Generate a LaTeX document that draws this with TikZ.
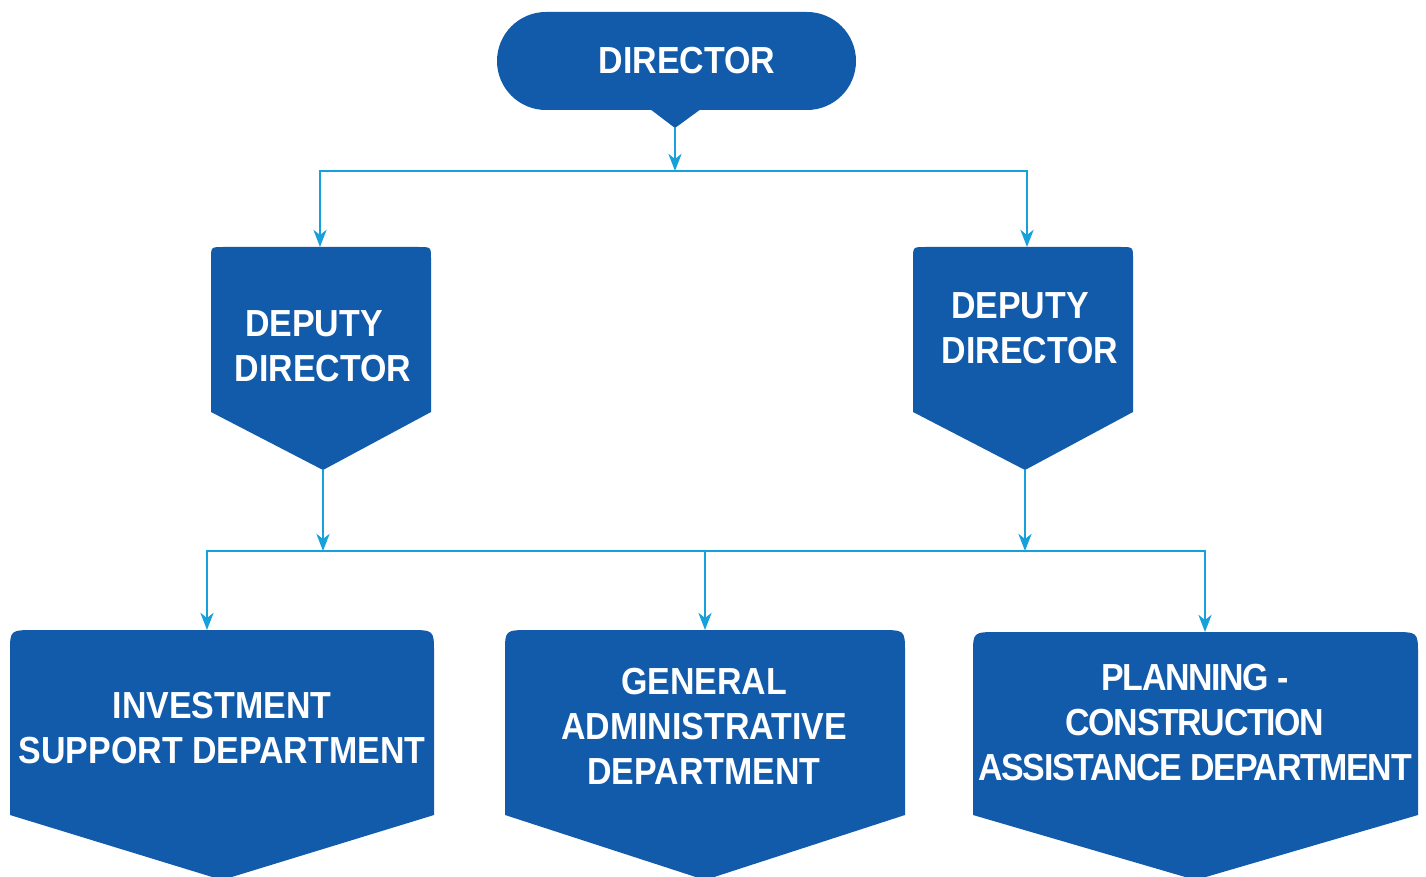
\documentclass[tikz,border=0pt]{standalone}
\usepackage{fontspec}
\setmainfont{Liberation Sans}[FakeStretch=0.9]
\usepackage{tikz}
\usetikzlibrary{arrows.meta}
\definecolor{OrgChartBlue}{RGB}{18,91,171}
\definecolor{OrgChartLine}{RGB}{22,160,220}

\begin{document}
\begin{tikzpicture}[x=1pt,y=-1pt,lbl/.style={text=white,font=\bfseries\fontsize{37.7pt}{45pt}\selectfont,align=center,inner sep=0pt},blk/.style={fill=OrgChartBlue},wire/.style={draw=OrgChartLine,line width=2.8pt},link/.style={wire,-{Stealth[length=17pt,width=13pt,inset=5pt]}}]
\useasboundingbox (0,0) rectangle (1426,877);
\clip (0,0) rectangle (1426,877);
\coordinate (dirtip) at (675,128);
\coordinate (hub) at (675,171);
\coordinate (depLtop) at (320,247);
\coordinate (depRtop) at (1027,247);
\coordinate (depLtip) at (323,470);
\coordinate (depRtip) at (1025,470);
\coordinate (busL) at (323,551);
\coordinate (busM) at (705,551);
\coordinate (busR) at (1025,551);
\coordinate (invtop) at (207,630);
\coordinate (gentop) at (705,630);
\coordinate (plantop) at (1205,632);
% shapes
\fill[blk,rounded corners=49pt] (497,12) rectangle (856,110);
\fill[blk] (650,109) -- (dirtip) -- (701,109) -- cycle;
\foreach \cx in {211,913} {
   \fill[blk] (\cx,412) -- (\cx,259) .. controls (\cx,247) .. (\cx+12,247) -- (\cx+208,247) .. controls (\cx+220,247) .. (\cx+220,259) -- (\cx+220,412) -- (\cx+112,470) -- cycle;
}
\foreach \lx/\rx/\ty in %
{10/434/630,505/905/630,973/1418/632} {
   \fill[blk] (\lx,815) -- (\lx,\ty+22) .. controls (\lx,\ty) .. (\lx+26,\ty) -- (\rx-26,\ty) .. controls (\rx,\ty) .. (\rx,\ty+22) -- (\rx,815) -- ({(\lx+\rx)/2},880) -- cycle;
}
% connectors
\draw[link] (dirtip) -- (hub);
\draw[link] (hub) -| (depLtop);
\draw[link] (hub) -| (depRtop);
\draw[link] (depLtip) -- (busL);
\draw[link] (depRtip) -- (busR);
\draw[wire] (busL) -- (busR);
\draw[link] (busL) -| (invtop);
\draw[link] (busM) -- (gentop);
\draw[link] (busR) -| (plantop);
% texts
\node[lbl] (dir) at (687,61) {DIRECTOR};
\node[lbl] (depL) at (323,346) {DEPUTY\hspace*{18pt}\\DIRECTOR};
\node[lbl] (depR) at (1030,328) {DEPUTY\hspace*{20pt}\\DIRECTOR};
\node[lbl] (inv) at (222,728) {INVESTMENT\\SUPPORT DEPARTMENT};
\node[lbl] (gen) at (704,726) {GENERAL\\ADMINISTRATIVE\\DEPARTMENT};
\node[lbl,font=\bfseries\fontsize{37.7pt}{45pt}\selectfont\addfontfeatures{LetterSpace=-3.5}] (plan) at (1195,723) {PLANNING -\\CONSTRUCTION\\ASSISTANCE DEPARTMENT};
\end{tikzpicture}
\end{document}
